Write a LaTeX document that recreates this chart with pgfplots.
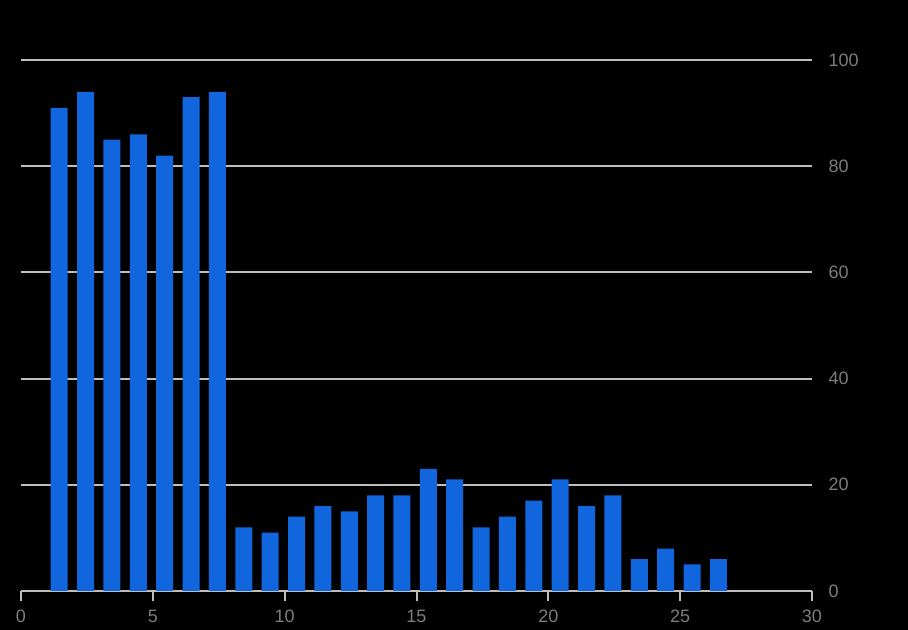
\documentclass[border=0pt]{standalone}
\usepackage{pgfplots}
\pgfplotsset{compat=1.18}
\usepackage{fontspec}
\setmainfont{Liberation Sans}
\definecolor{barblue}{RGB}{17,102,221}
\definecolor{gridgray}{RGB}{190,190,190}
\definecolor{labgray}{RGB}{125,125,125}
\begin{document}
\begin{tikzpicture}
\fill[black] (0,0) rectangle (681pt,472.5pt);
\begin{axis}[
  at={(15.75pt,29.25pt)}, anchor=south west,
  scale only axis, width=593.25pt, height=398.25pt,
  xmin=0, xmax=30, ymin=0, ymax=100,
  xtick={0,5,...,30}, ytick={0,20,...,100},
  axis x line*=bottom,
  x axis line style={draw=gridgray, line width=1.5pt},
  y axis line style={draw=none},
  ymajorgrids, grid style={gridgray, line width=1.5pt},
  yticklabel pos=right,
  y tick style={draw=none},
  x tick style={gridgray, line width=1.5pt},
  tick align=outside, major tick length=7.5pt,
  ticklabel style={font=\fontsize{13.5}{16}\selectfont, text=labgray},
  /pgf/number format/assume math mode=true,
  y tick label style={anchor=west, xshift=1.5pt},
  x tick label style={yshift=-3.5pt},
  clip=false,
]
\addplot[ybar, bar width=12.75pt, fill=barblue, draw=none] coordinates {
(1.45,91) (2.45,94) (3.45,85) (4.45,86) (5.45,82) (6.45,93) (7.45,94)
(8.45,12) (9.45,11) (10.45,14) (11.45,16) (12.45,15) (13.45,18) (14.45,18)
(15.45,23) (16.45,21) (17.45,12) (18.45,14) (19.45,17) (20.45,21) (21.45,16)
(22.45,18) (23.45,6) (24.45,8) (25.45,5) (26.45,6)};
\end{axis}
\pgfresetboundingbox
\path[use as bounding box] (0,0) rectangle (681pt,472.5pt);
\end{tikzpicture}
\end{document}
